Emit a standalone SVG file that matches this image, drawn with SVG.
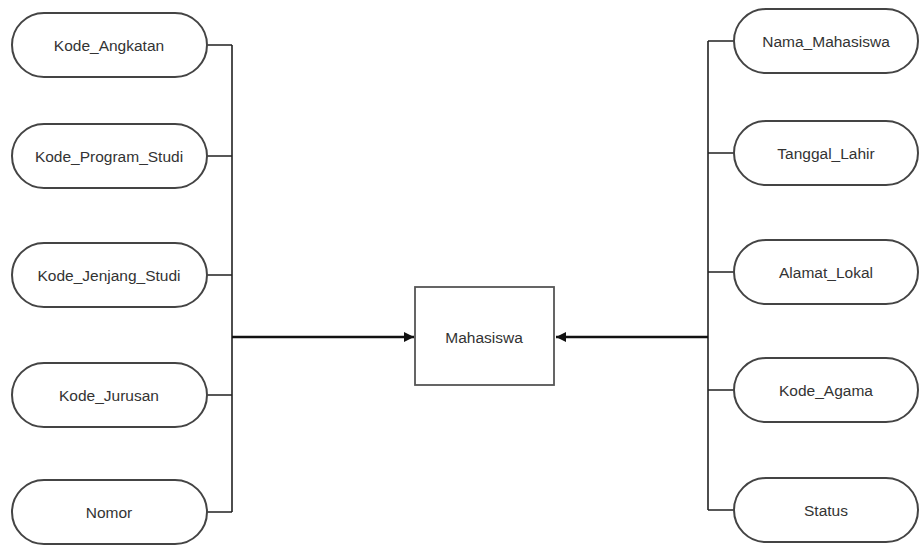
<svg xmlns="http://www.w3.org/2000/svg" width="921" height="545" viewBox="0 0 921 545">
<defs>
<style>
.n{fill:#fff;stroke:#444;stroke-width:2}
.t{font-family:"Liberation Sans",Arial,sans-serif;font-size:15.5px;fill:#333;text-anchor:middle;dominant-baseline:central}
.c{fill:none;stroke:#222;stroke-width:1.6}
.m{fill:none;stroke:#111;stroke-width:2.6}
</style>
<marker id="ah" viewBox="0 0 10 10" refX="10" refY="5" markerWidth="10" markerHeight="10" markerUnits="userSpaceOnUse" orient="auto">
<path d="M0,0 L10,5 L0,10 Z" fill="#111"/>
</marker>
</defs>
<rect width="921" height="545" fill="#fff"/>
<g id="connectors">
<path class="c" d="M207,45 H232 M207,156 H232 M207,275 H232 M207,395 H232 M207,512 H232 M232,45 V512"/>
<path class="c" d="M734,41 H708 M734,153 H708 M734,272 H708 M734,390 H708 M734,510 H708 M708,41 V510"/>
<path class="m" d="M232,337 H414" marker-end="url(#ah)"/>
<path class="m" d="M708,337 H556" marker-end="url(#ah)"/>
</g>
<g id="kode_angkatan"><rect class="n" x="12" y="13" width="195" height="64" rx="32"/><text class="t" x="109" y="45">Kode_Angkatan</text></g>
<g id="kode_program_studi"><rect class="n" x="12" y="124" width="195" height="64" rx="32"/><text class="t" x="109" y="156">Kode_Program_Studi</text></g>
<g id="kode_jenjang_studi"><rect class="n" x="12" y="243" width="195" height="64" rx="32"/><text class="t" x="109" y="275">Kode_Jenjang_Studi</text></g>
<g id="kode_jurusan"><rect class="n" x="12" y="363" width="195" height="64" rx="32"/><text class="t" x="109" y="395">Kode_Jurusan</text></g>
<g id="nomor"><rect class="n" x="12" y="480" width="195" height="64" rx="32"/><text class="t" x="109" y="512">Nomor</text></g>
<g id="mahasiswa"><rect x="415" y="287" width="139" height="98" fill="#fff" stroke="#555" stroke-width="1.8"/><text class="t" x="484" y="337">Mahasiswa</text></g>
<g id="nama_mahasiswa"><rect class="n" x="734" y="9" width="184" height="64" rx="32"/><text class="t" x="826" y="41">Nama_Mahasiswa</text></g>
<g id="tanggal_lahir"><rect class="n" x="734" y="121" width="184" height="64" rx="32"/><text class="t" x="826" y="153">Tanggal_Lahir</text></g>
<g id="alamat_lokal"><rect class="n" x="734" y="240" width="184" height="64" rx="32"/><text class="t" x="826" y="272">Alamat_Lokal</text></g>
<g id="kode_agama"><rect class="n" x="734" y="358" width="184" height="64" rx="32"/><text class="t" x="826" y="390">Kode_Agama</text></g>
<g id="status"><rect class="n" x="734" y="478" width="184" height="64" rx="32"/><text class="t" x="826" y="510">Status</text></g>
</svg>
